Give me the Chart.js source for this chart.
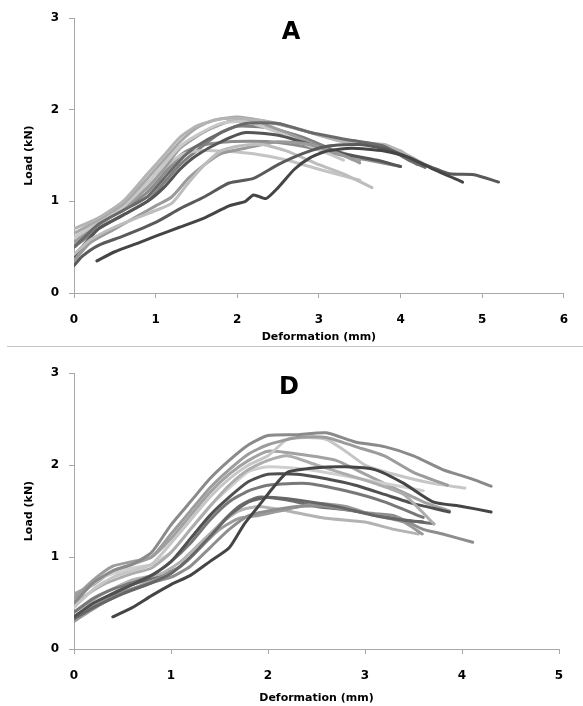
<!DOCTYPE html>
<html>
<head>
<meta charset="utf-8">
<script src="https://cdn.jsdelivr.net/npm/chart.js@4/dist/chart.umd.min.js"></script>
<style>
    body { margin: 0; background: #fff; width: 583px; height: 706px; position: relative; overflow: hidden; }
    .panel { position: absolute; left: 0; width: 583px; }
    #panelA { top: 0; height: 345px; }
    #panelD { top: 348px; height: 358px; }
    .divider { position: absolute; left: 7px; right: 0; top: 346px; height: 1px; background: #c4c4c4; }
</style>
</head>
<body>
<div class="panel" id="panelA"><canvas id="chartA"></canvas></div>
<div class="divider"></div>
<div class="panel" id="panelD"><canvas id="chartD"></canvas></div>
<script>
// Panel A curves: [deformation (mm), load (kN)]
const a1 = [[0.28,0.35],[0.5,0.45],[0.8,0.55],[1.0,0.62],[1.3,0.72],[1.6,0.82],[1.9,0.95],[2.1,1.0],[2.2,1.07],[2.35,1.03],[2.5,1.15],[2.7,1.35],[2.9,1.48],[3.1,1.55],[3.4,1.58],[3.8,1.55],[4.1,1.48],[4.4,1.35],[4.76,1.21]];
const a2 = [[0,0.3],[0.1,0.4],[0.3,0.52],[0.6,0.62],[1.0,0.77],[1.3,0.92],[1.6,1.05],[1.9,1.2],[2.2,1.25],[2.5,1.4],[2.8,1.52],[3.1,1.6],[3.5,1.62],[3.9,1.55],[4.3,1.4],[4.6,1.3],[4.9,1.29],[5.2,1.21]];
const a3 = [[0,0.42],[0.2,0.58],[0.5,0.72],[0.8,0.83],[1.0,0.9],[1.2,0.98],[1.4,1.2],[1.6,1.4],[1.8,1.55],[2.0,1.6],[2.3,1.62],[2.6,1.55],[3.0,1.4],[3.3,1.3],[3.65,1.15]];
const a4 = [[0,0.35],[0.2,0.55],[0.5,0.7],[0.8,0.85],[1.0,0.95],[1.2,1.05],[1.4,1.25],[1.6,1.4],[1.8,1.52],[2.1,1.58],[2.5,1.65],[2.9,1.62],[3.3,1.5],[3.5,1.42]];
const a5 = [[0,0.4],[0.3,0.7],[0.6,0.85],[0.9,1.0],[1.1,1.15],[1.3,1.35],[1.5,1.5],[1.8,1.65],[2.1,1.75],[2.5,1.72],[2.9,1.62],[3.3,1.52],[3.7,1.45],[4.0,1.38]];
const a6 = [[0,0.5],[0.3,0.75],[0.6,0.9],[0.9,1.05],[1.1,1.25],[1.3,1.45],[1.5,1.6],[1.8,1.75],[2.1,1.85],[2.5,1.85],[2.9,1.75],[3.3,1.68],[3.8,1.6],[4.1,1.45],[4.3,1.37]];
const a7 = [[0,0.7],[0.3,0.82],[0.6,1.0],[0.9,1.3],[1.1,1.5],[1.3,1.7],[1.5,1.82],[1.8,1.9],[2.1,1.9],[2.5,1.85],[2.9,1.75],[3.3,1.65],[3.8,1.62],[4.1,1.5],[4.3,1.4]];
const a8 = [[0,0.65],[0.3,0.8],[0.6,0.97],[0.9,1.25],[1.1,1.45],[1.3,1.65],[1.5,1.8],[1.7,1.88],[2.0,1.92],[2.3,1.88],[2.7,1.8],[3.1,1.7],[3.5,1.65],[4.0,1.55],[4.2,1.4]];
const a9 = [[0,0.6],[0.3,0.77],[0.6,0.94],[0.9,1.2],[1.1,1.4],[1.3,1.6],[1.5,1.72],[1.8,1.85],[2.1,1.87],[2.5,1.75],[2.9,1.6],[3.3,1.45]];
const a10 = [[0,0.55],[0.3,0.74],[0.6,0.92],[0.9,1.15],[1.1,1.35],[1.3,1.58],[1.6,1.76],[1.9,1.87],[2.2,1.88],[2.6,1.75],[3.0,1.6],[3.4,1.5],[3.5,1.45]];
const a11 = [[0,0.6],[0.3,0.78],[0.6,0.95],[0.9,1.15],[1.1,1.35],[1.3,1.5],[1.5,1.55],[1.8,1.55],[2.2,1.52],[2.6,1.45],[3.0,1.35],[3.5,1.23]];
const a12 = [[0,0.5],[0.3,0.7],[0.6,0.85],[0.9,1.0],[1.1,1.2],[1.3,1.4],[1.5,1.55],[1.8,1.75],[2.0,1.82],[2.4,1.8],[2.8,1.7],[3.2,1.55]];
const a13 = [[0,0.55],[0.3,0.76],[0.6,0.9],[0.9,1.1],[1.1,1.3],[1.3,1.5],[1.5,1.6],[1.9,1.65],[2.4,1.65],[2.8,1.6],[3.2,1.52],[3.6,1.45],[4.0,1.38]];
const curvesA = [a1, a2, a3, a4, a5, a6, a7, a8, a9, a10, a11, a12, a13];
const colorsA = ['#454545', '#5a5a5a', '#bdbdbd', '#9a9a9a', '#555555', '#6a6a6a', '#b4b4b4', '#a8a8a8', '#c8c8c8', '#9e9e9e', '#c4c4c4', '#808080', '#8c8c8c'];

// Panel D curves
const d1 = [[0.4,0.35],[0.6,0.45],[0.8,0.58],[1.0,0.7],[1.2,0.8],[1.4,0.95],[1.6,1.1],[1.75,1.35],[1.9,1.55],[2.05,1.75],[2.2,1.92],[2.5,1.97],[2.8,1.98],[3.1,1.95],[3.4,1.8],[3.7,1.6],[4.0,1.55],[4.3,1.49]];
const d2 = [[0,0.5],[0.2,0.72],[0.4,0.85],[0.6,0.92],[0.8,1.05],[1.0,1.35],[1.2,1.6],[1.4,1.85],[1.6,2.05],[1.8,2.22],[2.0,2.32],[2.3,2.33],[2.6,2.35],[2.9,2.25],[3.2,2.2],[3.5,2.1],[3.8,1.95],[4.1,1.85],[4.3,1.77]];
const d3 = [[0,0.55],[0.2,0.75],[0.4,0.9],[0.6,0.95],[0.8,1.0],[1.0,1.25],[1.2,1.5],[1.4,1.75],[1.6,1.95],[1.8,2.12],[2.0,2.22],[2.3,2.3],[2.6,2.3],[2.9,2.2],[3.2,2.1],[3.5,1.92],[3.85,1.78]];
const d4 = [[0,0.45],[0.2,0.65],[0.4,0.78],[0.6,0.85],[0.8,0.92],[1.0,1.15],[1.2,1.4],[1.4,1.65],[1.6,1.85],[1.8,2.0],[2.0,2.1],[2.2,2.28],[2.4,2.3],[2.6,2.28],[2.8,2.15],[3.0,2.0],[3.3,1.9],[3.7,1.8],[4.03,1.75]];
const d5 = [[0,0.5],[0.3,0.7],[0.6,0.82],[0.8,0.88],[1.0,1.05],[1.2,1.3],[1.4,1.55],[1.6,1.78],[1.8,1.95],[2.0,2.05],[2.2,2.1],[2.5,2.0],[2.8,1.9],[3.1,1.8],[3.4,1.68],[3.71,1.36]];
const d6 = [[0,0.55],[0.3,0.78],[0.6,0.88],[0.8,0.92],[1.0,1.05],[1.2,1.3],[1.4,1.55],[1.6,1.75],[1.8,1.93],[2.0,1.98],[2.4,1.95],[2.8,1.88],[3.2,1.8],[3.6,1.72]];
const d7 = [[0,0.35],[0.2,0.5],[0.4,0.6],[0.6,0.7],[0.8,0.8],[1.0,0.95],[1.2,1.2],[1.4,1.45],[1.6,1.65],[1.8,1.82],[2.0,1.9],[2.3,1.9],[2.6,1.85],[2.9,1.78],[3.2,1.68],[3.5,1.58],[3.87,1.49]];
const d8 = [[0,0.4],[0.2,0.55],[0.4,0.65],[0.6,0.72],[0.8,0.8],[1.0,0.95],[1.2,1.15],[1.4,1.4],[1.6,1.6],[1.8,1.72],[2.0,1.78],[2.4,1.8],[2.8,1.72],[3.2,1.6],[3.6,1.43]];
const d9 = [[0,0.33],[0.2,0.45],[0.5,0.6],[0.8,0.72],[1.0,0.82],[1.2,1.0],[1.4,1.22],[1.6,1.45],[1.8,1.6],[2.0,1.65],[2.3,1.62],[2.7,1.55],[3.1,1.45],[3.4,1.4],[3.6,1.38]];
const d10 = [[0,0.35],[0.2,0.48],[0.5,0.62],[0.8,0.72],[1.0,0.78],[1.2,0.9],[1.4,1.1],[1.6,1.3],[1.8,1.45],[2.0,1.5],[2.3,1.55],[2.6,1.55],[3.0,1.48],[3.3,1.45],[3.6,1.3],[3.8,1.25],[4.11,1.16]];
const d11 = [[0,0.3],[0.3,0.5],[0.6,0.65],[0.9,0.78],[1.1,0.9],[1.3,1.1],[1.5,1.3],[1.7,1.42],[1.9,1.45],[2.2,1.52],[2.5,1.58],[2.8,1.55],[3.1,1.45],[3.4,1.38],[3.59,1.25]];
const d12 = [[0,0.4],[0.3,0.6],[0.6,0.75],[0.9,0.82],[1.1,0.95],[1.3,1.15],[1.5,1.35],[1.7,1.5],[1.9,1.55],[2.2,1.5],[2.6,1.42],[3.0,1.38],[3.3,1.3],[3.55,1.25]];
const d13 = [[0,0.35],[0.3,0.55],[0.6,0.7],[0.9,0.8],[1.1,0.9],[1.3,1.1],[1.5,1.35],[1.7,1.55],[1.9,1.65],[2.2,1.62],[2.5,1.55],[2.9,1.5],[3.3,1.42],[3.71,1.36]];
const d14 = [[0,0.6],[0.2,0.7],[0.4,0.85],[0.6,0.92],[0.8,1.0],[1.0,1.2],[1.2,1.45],[1.4,1.7],[1.6,1.9],[1.8,2.05],[2.0,2.15],[2.3,2.12],[2.7,2.05],[3.0,1.9],[3.3,1.75],[3.6,1.6],[3.87,1.5]];
const curvesD = [d1, d2, d3, d4, d5, d6, d7, d8, d9, d10, d11, d12, d13, d14];
const colorsD = ['#454545', '#8a8a8a', '#9c9c9c', '#c6c6c6', '#adadad', '#cfcfcf', '#505050', '#787878', '#666666', '#8e8e8e', '#9a9a9a', '#b3b3b3', '#6e6e6e', '#a2a2a2'];

const yTicks = [0, 1, 2, 3];
const xTitle = 'Deformation (mm)';
const yTitle = 'Load (kN)';

const FONT = 'DejaVu Sans';

// draws the panel letter inside the plot
const panelLabel = {
    id: 'panelLabel',
    afterDraw(chart, args, opts) {
        const ctx = chart.ctx;
        ctx.save();
        ctx.font = 'bold 24px "' + FONT + '"';
        ctx.fillStyle = '#000';
        ctx.textAlign = 'center';
        ctx.textBaseline = 'middle';
        ctx.fillText(opts.text, opts.x, opts.y);
        ctx.restore();
    }
};

function makeChart(id, curves, colors, xMax, letter, letterPos, pad, xAxisHeight) {
    const datasets = curves.map((c, i) => ({
        data: c.map(p => ({ x: p[0], y: p[1] })),
        borderColor: colors[i],
        borderWidth: 3,
        borderCapStyle: 'round',
        borderJoinStyle: 'round',
        pointRadius: 0,
        tension: 0.2,
        fill: false
    }));
    return new Chart(document.getElementById(id), {
        type: 'line',
        data: { datasets },
        plugins: [panelLabel],
        options: {
            responsive: true,
            maintainAspectRatio: false,
            animation: false,
            layout: { padding: pad },
            plugins: {
                legend: { display: false },
                tooltip: { enabled: false },
                panelLabel: { text: letter, x: letterPos[0], y: letterPos[1] }
            },
            scales: {
                x: {
                    type: 'linear',
                    min: 0,
                    max: xMax,
                    border: { color: '#a8a8a8', width: 1 },
                    grid: { drawOnChartArea: false, tickLength: 5, color: '#a8a8a8' },
                    ticks: { stepSize: 1, padding: 15, color: '#000', font: { family: FONT, size: 12, weight: 'bold' } },
                    title: { display: true, text: xTitle, color: '#000', padding: { top: 0, bottom: 1 }, font: { family: FONT, size: 11, weight: 'bold' } },
                    afterFit(scale) { scale.height = xAxisHeight; }
                },
                y: {
                    min: 0,
                    max: 3,
                    border: { color: '#a8a8a8', width: 1 },
                    grid: { drawOnChartArea: false, tickLength: 5, color: '#a8a8a8' },
                    afterBuildTicks(scale) { scale.ticks = yTicks.map(v => ({ value: v })); },
                    ticks: { padding: 10, color: '#000', font: { family: FONT, size: 12, weight: 'bold' } },
                    title: { display: true, text: yTitle, color: '#000', padding: { top: 23, bottom: 0 }, font: { family: FONT, size: 11, weight: 'bold' } },
                    afterFit(scale) { scale.width = 74; }
                }
            }
        }
    });
}

makeChart('chartA', curvesA, colorsA, 6, 'A', [291, 33], { top: 18, right: 19, left: 0, bottom: 0 }, 52);
makeChart('chartD', curvesD, colorsD, 5, 'D', [289, 40], { top: 25, right: 24, left: 0, bottom: 0 }, 57);
</script>
</body>
</html>
